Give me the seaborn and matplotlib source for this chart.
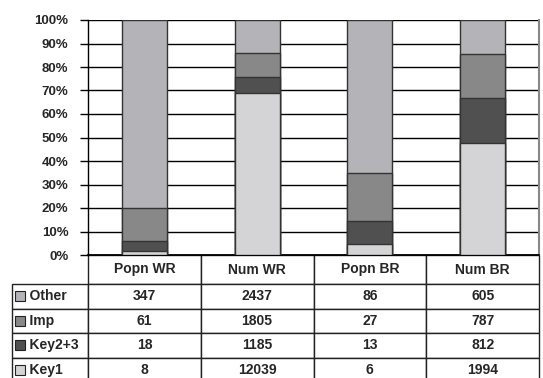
import matplotlib
matplotlib.use("Agg")
import matplotlib.pyplot as plt
import seaborn as sns
import pandas as pd
import numpy as np
from matplotlib.patches import Rectangle

categories = ["Popn WR", "Num WR", "Popn BR", "Num BR"]
series_names = ["Other", "Imp", "Key2+3", "Key1"]
other = [347, 2437, 86, 605]
imp = [61, 1805, 27, 787]
key23 = [18, 1185, 13, 812]
key1 = [8, 12039, 6, 1994]
table_text = [["347", "2437", "86", "605"],
              ["61", "1805", "27", "787"],
              ["18", "1185", "13", "812"],
              ["8", "12039", "6", "1994"]]
colors = {"Other": "#b4b4b8", "Imp": "#888888", "Key2+3": "#505050", "Key1": "#d4d4d6"}

sns.set_theme(style="white")
plt.rcParams['font.family'] = ['Liberation Sans', 'DejaVu Sans']
plt.rcParams['font.weight'] = 'bold'

W, H = 543, 378
fig = plt.figure(figsize=(W / 100, H / 100), dpi=100)
x0, x1, ytop, ybot = 88, 539, 20, 255
ax = fig.add_axes([x0 / W, 1 - ybot / H, (x1 - x0) / W, (ybot - ytop) / H])

tot = np.array(other) + np.array(imp) + np.array(key23) + np.array(key1)
s_key1 = np.array(key1) / tot
s_key23 = s_key1 + np.array(key23) / tot
s_imp = s_key23 + np.array(imp) / tot
s_other = s_imp + np.array(other) / tot

layers = [("Other", s_other), ("Imp", s_imp), ("Key2+3", s_key23), ("Key1", s_key1)]
for name, vals in layers:
    df = pd.DataFrame({"cat": categories, "val": vals})
    sns.barplot(data=df, x="cat", y="val", color=colors[name], width=0.4,
                edgecolor="#333333", linewidth=1.0, saturation=1, ax=ax, zorder=3)

ax.set_ylim(0, 1)
ax.set_xlim(-0.5, 3.5)
ax.set_yticks(np.arange(0, 1.01, 0.1))
ax.set_yticklabels([f"{int(round(v * 100))}%" for v in np.arange(0, 1.01, 0.1)],
                   fontsize=9.5, fontweight='bold')
ax.yaxis.grid(True, color="black", linewidth=1.0)
ax.set_axisbelow(True)
ax.tick_params(axis='y', left=True, length=6, width=1, color="black", pad=8)
ax.tick_params(axis='x', bottom=False, labelbottom=False)
ax.set_xlabel("")
ax.set_ylabel("")
ax.spines["top"].set_visible(False)
ax.spines["left"].set_color("black")
ax.spines["left"].set_linewidth(1.0)
ax.spines["bottom"].set_color("black")
ax.spines["right"].set_color("#888888")
ax.spines["right"].set_linewidth(1.5)

# data table
axh = ybot - ytop
lab_w = x0 - 12
col_w = (x1 - x0) / 4
hdr_h, row_h = 29, 24.5
tab_h = hdr_h + 4 * row_h
cell_text = [["    " + series_names[i]] + table_text[i] for i in range(4)]
tbl = ax.table(cellText=cell_text, colLabels=[""] + categories,
               colWidths=[lab_w] + [col_w] * 4, cellLoc="center",
               bbox=[(12 - x0) / (x1 - x0), -tab_h / axh, (x1 - 12) / (x1 - x0), tab_h / axh])
tbl.auto_set_font_size(False)
for (r, c), cell in tbl.get_celld().items():
    cell.set_linewidth(1.0)
    cell.set_edgecolor("#222222")
    cell.get_text().set_fontsize(10)
    cell.get_text().set_fontweight('bold')
    cell.set_height(hdr_h if r == 0 else row_h)
    if c == 0:
        cell.get_text().set_ha("left")
        cell.PAD = 0.02
    if r == 0 and c == 0:
        cell.visible_edges = ""

# legend keys in the row-label cells
for i, name in enumerate(series_names):
    yc = ybot + hdr_h + row_h * i + row_h / 2
    fig.add_artist(Rectangle((15 / W, 1 - (yc + 5) / H), 10 / W, 10 / H,
                             transform=fig.transFigure, facecolor=colors[name],
                             edgecolor="#222222", linewidth=0.8))

fig.savefig("out.png", dpi=100)
